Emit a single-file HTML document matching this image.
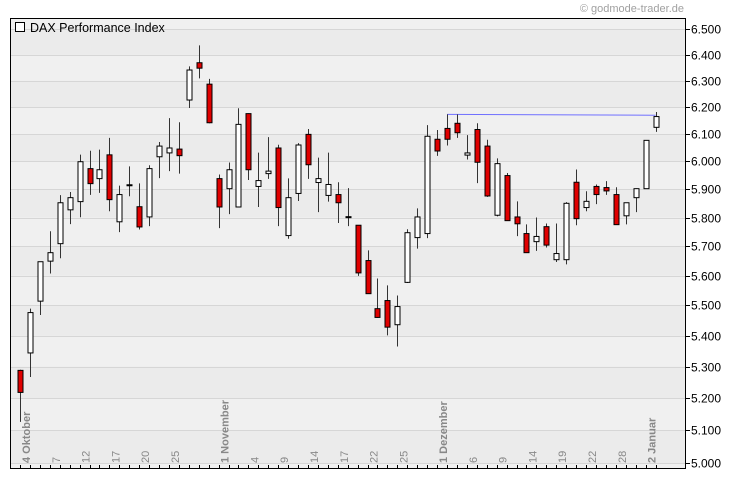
<!DOCTYPE html>
<html><head><meta charset="utf-8"><style>
html,body{margin:0;padding:0;background:#fff;}
svg{display:block;font-family:"Liberation Sans",sans-serif;}
</style></head><body>
<svg id="chart" width="730" height="481" viewBox="0 0 730 481" xmlns="http://www.w3.org/2000/svg">
<text x="684" y="12" font-size="11" fill="#a0a0a0" text-anchor="end">© godmode-trader.de</text>
<g id="plot"></g>
</svg>
<script>
const opens  = [5288,5344,5514,5649,5709,5827,5856,5974,5938,6024,5785,5915,5838,5802,6017,6031,6045,6227,6369,6287,5938,5902,5837,6176,5910,5956,6049,5737,5885,6099,5924,5878,5881,5802,5773,5651,5489,5516,5436,5577,5730,5744,6081,6121,6140,6023,6117,6056,5808,5949,5802,5744,5716,5768,5654,5654,5925,5835,5910,5906,5881,5806,5870,5902,6125];
const closes = [5218,5476,5647,5678,5852,5870,5999,5920,5970,5863,5881,5916,5767,5974,6056,6049,6021,6341,6348,6142,5837,5970,6136,5970,5931,5965,5835,5870,6060,5988,5938,5917,5852,5803,5609,5539,5460,5428,5496,5747,5802,6092,6038,6081,6105,6031,5997,5876,5992,5789,5778,5678,5734,5704,5675,5850,5796,5857,5881,5894,5775,5852,5902,6077,6165];
const highs  = [5290,5489,5648,5752,5879,5890,6025,6039,6043,6086,5913,5982,5921,5986,6071,6159,6144,6355,6436,6307,5953,5996,6196,6177,6032,6089,6061,5939,6067,6119,6014,6032,5925,5904,5774,5686,5590,5567,5533,5759,5832,6133,6115,6173,6173,6096,6140,6079,6011,5958,5857,5776,5800,5779,5779,5854,5971,5893,5917,5929,5907,5853,5903,6077,6182];
const lows   = [5126,5267,5468,5607,5659,5777,5801,5880,5887,5822,5749,5875,5758,5770,5940,5965,5956,6197,6309,6140,5763,5812,5835,5933,5837,5937,5770,5726,5858,5937,5819,5856,5781,5770,5599,5538,5459,5401,5365,5575,5692,5728,6020,6058,6086,6007,5922,5873,5804,5789,5735,5678,5684,5696,5646,5638,5773,5822,5847,5880,5775,5776,5819,5902,6108];
const yTicks = [5000,5100,5200,5300,5400,5500,5600,5700,5800,5900,6000,6100,6200,6300,6400,6500];
const yTickLabels = ["5.000","5.100","5.200","5.300","5.400","5.500","5.600","5.700","5.800","5.900","6.000","6.100","6.200","6.300","6.400","6.500"];
const xLabelIdx = [0,3,6,9,12,15,20,23,26,29,32,35,38,42,45,48,51,54,57,60,63];
const xLabelText = ["4 Oktober","7","12","17","20","25","1 November","4","9","14","17","22","25","1 Dezember","6","9","14","19","22","28","2 Januar"];
const xLabelBold = [1,0,0,0,0,0,1,0,0,0,0,0,0,1,0,0,0,0,0,0,1];
const resistIdx = [43,64];
const resistVal = [6173,6170];

const NS="http://www.w3.org/2000/svg";
const L=10,T=18,R=686,B=468;
function yS(v){return 463-1654*Math.log(v/5000);}
function xS(i){return 20+i*9.93;}
const g=document.getElementById('plot');
function mk(tag,attrs,parent){const e=document.createElementNS(NS,tag);for(const k in attrs)e.setAttribute(k,attrs[k]);(parent||g).appendChild(e);return e;}

let bg=mk('rect',{x:L,y:T,width:R-L,height:B-T,fill:'#f0f0f0'});


for(let k=0;k<yTicks.length-1;k++){
  const y1=yS(yTicks[k+1]),y2=yS(yTicks[k]);
  if(k%2===0){const b=mk('rect',{x:L,y:y1,width:R-L,height:y2-y1,fill:'#ebebeb'});
  
  }
}
yTicks.forEach((v,k)=>{
  const y=Math.round(yS(v))+0.5;
  const gl=mk('line',{x1:L,x2:R,y1:y,y2:y,stroke:'#d6d6d6','stroke-width':1});
  
  
  const tk=mk('line',{x1:R,x2:R+4,y1:y,y2:y,stroke:'#000','stroke-width':1});
  
  
  const t=mk('text',{x:R+5,y:y+4,'font-size':12,fill:'#000'});
  t.textContent=yTickLabels[k];
  
  
});
for(let i=0;i<opens.length;i++){
  const x=Math.round(xS(i))+0.5;
  const tk=mk('line',{x1:x,x2:x,y1:B-3,y2:B,stroke:'#000','stroke-width':1});
  
  
}
xLabelIdx.forEach((idx,k)=>{
  const x=xS(idx)+10;
  const t=mk('text',{x:0,y:0,transform:`translate(${x},463) rotate(-90)`,'font-size':11,fill:'#888','font-weight':xLabelBold[k]?'bold':'normal'});
  t.textContent=xLabelText[k];
  
  
});
const rl=mk('line',{x1:xS(resistIdx[0]),y1:yS(resistVal[0]),x2:xS(resistIdx[1]),y2:yS(resistVal[1]),stroke:'#7070ff','stroke-width':1});


for(let i=0;i<opens.length;i++){
  const x=Math.round(xS(i))+0.5;
  const w=mk('line',{x1:x,x2:x,y1:yS(highs[i]),y2:yS(lows[i]),stroke:'#333','stroke-width':1});
  
  
  const up=closes[i]>=opens[i];
  const top=yS(Math.max(opens[i],closes[i])),bot=yS(Math.min(opens[i],closes[i]));
  const b=mk('rect',{x:x-2.5,y:top,width:5,height:Math.max(bot-top,1),fill:up?'#fff':'#e00000',stroke:'#000','stroke-width':1});
  
  
}
const fr=mk('rect',{x:L+0.5,y:T+0.5,width:R-L-1,height:B-T,fill:'none',stroke:'#000','stroke-width':1});


const lb=mk('rect',{x:15.5,y:22.5,width:9,height:9,fill:'#fff',stroke:'#000','stroke-width':1});


const lt=mk('text',{x:30,y:32,'font-size':12.5,fill:'#000'});
lt.textContent='DAX Performance Index';


</script>
</body></html>
